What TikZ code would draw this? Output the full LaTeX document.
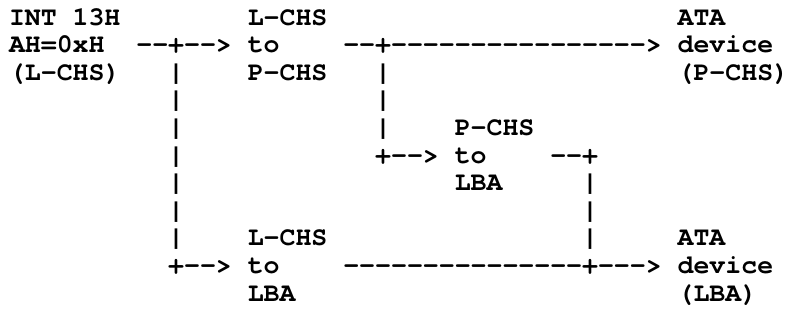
\documentclass[tikz,border=0pt]{standalone}
\usepackage{fontspec}
\setmonofont{texgyrecursor-bold.otf}
\begin{document}
% One unit in x is one character cell, one unit in y is one text line.
\begin{tikzpicture}[x=11.94pt, y=-20.7pt,
  cell/.style={anchor=base west, inner sep=0pt, outer sep=0pt,
    font=\fontsize{19.9pt}{20.7pt}\selectfont\ttfamily}]
\useasboundingbox (-6.75pt,18.75pt) rectangle (586.5pt,-222.75pt);

% --- boxes (three-line labels) ---
\node[cell] (src1) at (0,0) {INT 13H};
\node[cell] (src2) at (0,1) {AH=0xH};
\node[cell] (src3) at (0,2) {(L-CHS)};

\node[cell] (lp1) at (15,0) {L-CHS};
\node[cell] (lp2) at (15,1) {to};
\node[cell] (lp3) at (15,2) {P-CHS};

\node[cell] (ap1) at (42,0) {ATA};
\node[cell] (ap2) at (42,1) {device};
\node[cell] (ap3) at (42,2) {(P-CHS)};

\node[cell] (pl1) at (28,4) {P-CHS};
\node[cell] (pl2) at (28,5) {to};
\node[cell] (pl3) at (28,6) {LBA};

\node[cell] (ll1) at (15,8) {L-CHS};
\node[cell] (ll2) at (15,9) {to};
\node[cell] (ll3) at (15,10) {LBA};

\node[cell] (al1) at (42,8) {ATA};
\node[cell] (al2) at (42,9) {device};
\node[cell] (al3) at (42,10) {(LBA)};

% --- character-drawn connectors ---
\node[cell] (e1) at (8,1) {--+-->};
\node[cell] (e2) at (21,1) {--+---------------->};
\foreach \r in {2,...,8} \node[cell] (va\r) at (10,\r) {|};
\foreach \r in {2,...,4} \node[cell] (vb\r) at (23,\r) {|};
\node[cell] (e3) at (23,5) {+-->};
\node[cell] (e4) at (34,5) {--+};
\foreach \r in {6,...,8} \node[cell] (vc\r) at (36,\r) {|};
\node[cell] (e5) at (10,9) {+-->};
\node[cell] (e6) at (21,9) {---------------+--->};
\end{tikzpicture}
\end{document}
